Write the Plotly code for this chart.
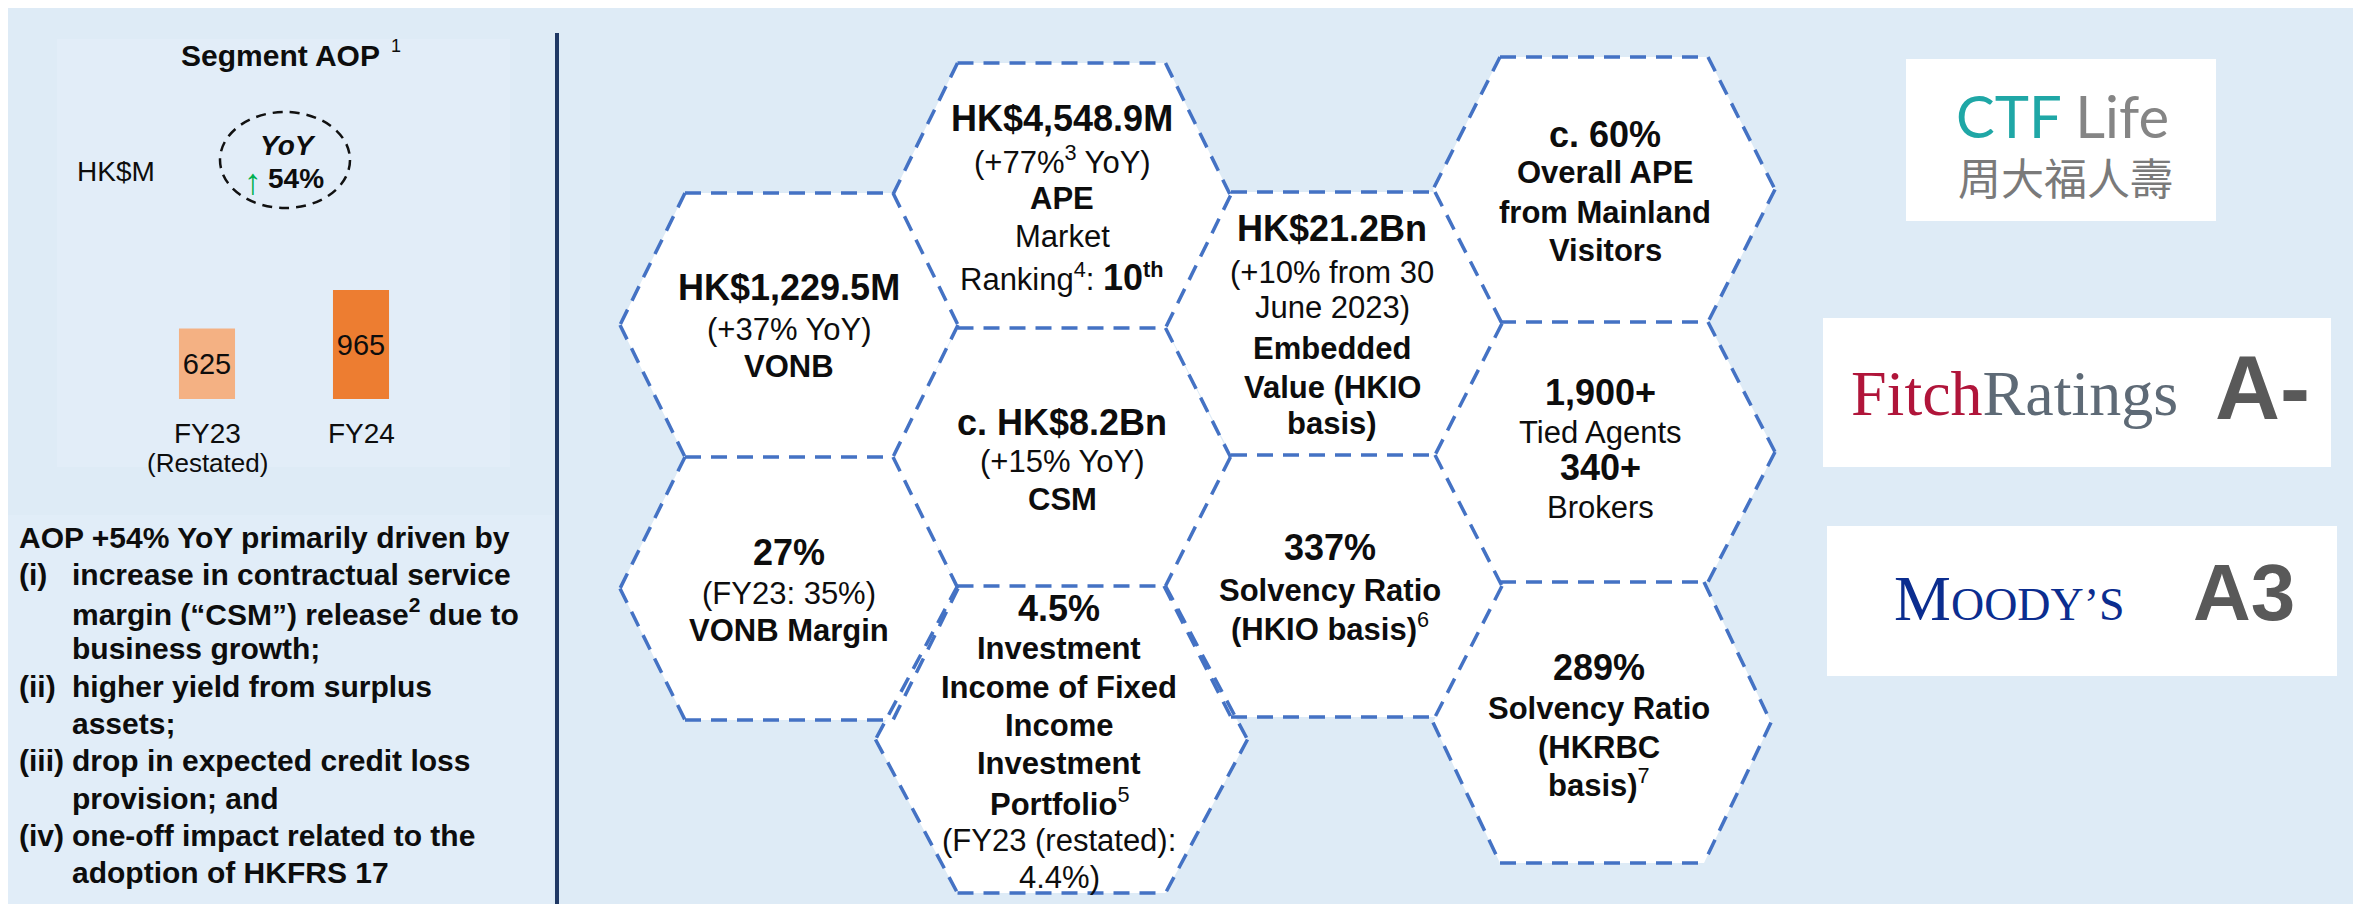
import plotly.graph_objects as go

# ---------------- data ----------------
categories = ["FY23", "FY24"]
category_notes = ["(Restated)", ""]
aop_values = [625, 965]
bar_colors = ["#F4B183", "#ED7D31"]
panel_title = "Segment AOP"
unit_label = "HK$M"
yoy_label = "YoY"
yoy_value = "54%"

driver_markers = ["", "(i)", "", "", "(ii)", "", "(iii)", "", "(iv)", ""]
driver_text = [
    "AOP +54% YoY primarily driven by",
    "increase in contractual service",
    "margin (“CSM”) release<sup>2</sup> due to",
    "business growth;",
    "higher yield from surplus",
    "assets;",
    "drop in expected credit loss",
    "provision; and",
    "one-off impact related to the",
    "adoption of HKFRS 17",
]

# hexagon contents: (text, kind)  kind: big / bold / reg / raw
hex_texts = [
    [("HK$1,229.5M", "big"), ("(+37% YoY)", "reg"), ("VONB", "bold")],
    [("27%", "big"), ("(FY23: 35%)", "reg"), ("VONB Margin", "bold")],
    [("HK$4,548.9M", "big"), ("(+77%<sup>3</sup> YoY)", "reg"), ("APE", "bold"),
     ("Market", "reg"), ("Ranking<sup>4</sup>: <b><span style='font-size:36px'>10</span><sup>th</sup></b>", "reg")],
    [("c. HK$8.2Bn", "big"), ("(+15% YoY)", "reg"), ("CSM", "bold")],
    [("4.5%", "big"), ("Investment", "bold"), ("Income of Fixed", "bold"), ("Income", "bold"),
     ("Investment", "bold"), ("<b>Portfolio</b><sup>5</sup>", "raw"), ("(FY23 (restated):", "reg"), ("4.4%)", "reg")],
    [("HK$21.2Bn", "big"), ("(+10% from 30", "reg"), ("June 2023)", "reg"), ("Embedded", "bold"),
     ("Value (HKIO", "bold"), ("basis)", "bold")],
    [("337%", "big"), ("Solvency Ratio", "bold"), ("<b>(HKIO basis)</b><sup>6</sup>", "raw")],
    [("c. 60%", "big"), ("Overall APE", "bold"), ("from Mainland", "bold"), ("Visitors", "bold")],
    [("1,900+", "big"), ("Tied Agents", "reg"), ("340+", "big"), ("Brokers", "reg")],
    [("289%", "big"), ("Solvency Ratio", "bold"), ("(HKRBC", "bold"), ("<b>basis)</b><sup>7</sup>", "raw")],
]

ratings = ["A-", "A3"]

# ---------------- layout geometry (screen pixels) ----------------
W_PX, H_PX = 2361, 904
OFF = 8  # page body margin: figure starts 8px right/down in the screenshot
FONT = "Liberation Sans, Arial, Helvetica, sans-serif"
SERIF = "Liberation Serif, Times New Roman, serif"
TXT = "#0D0D0D"
BG = "#DEEBF6"


def px(x):
    return (x - OFF) / W_PX


def py(y):
    return 1 - (y - OFF) / H_PX


hex_cx = [789, 789, 1061.5, 1061.5, 1061.5, 1333, 1333, 1604, 1604, 1602]
hex_top = [193, 457, 63, 328, 586, 192, 455, 57, 322, 582]
hex_bot = [457, 720, 328, 586, 893, 455, 717, 322, 582, 863]
hex_a = [104, 104, 104, 104, 104, 102, 102, 104, 104, 102]
hex_w = [169, 169, 169, 169, 186, 169, 169, 171, 171, 169]
hex_text_cx = [789, 789, 1062, 1062, 1059, 1332, 1330, 1605, 1600, 1599]
hex_line_y = [
    [287, 330, 367],
    [552, 593, 630],
    [118, 160, 198, 237, 278],
    [422, 461, 500],
    [608, 648, 687, 725, 763, 802, 840, 877],
    [228, 272, 308, 348, 387, 423],
    [547, 590, 627],
    [135, 173, 212, 250],
    [392, 432, 467, 507],
    [667, 708, 747, 783],
]

shapes = []
annotations = []


def rect(x0, y0, x1, y1, color):
    shapes.append(dict(type="rect", xref="paper", yref="paper", x0=px(x0), x1=px(x1),
                       y0=py(y1), y1=py(y0), fillcolor=color, line=dict(width=0), layer="below"))


def text(x, y, s, size, color=TXT, bold=False, italic=False, family=FONT, anchor="center"):
    if bold:
        s = "<b>" + s + "</b>"
    if italic:
        s = "<i>" + s + "</i>"
    annotations.append(dict(x=px(x), y=py(y), xref="paper", yref="paper", text=s, showarrow=False,
                            xanchor=anchor, yanchor="middle", font=dict(size=size, color=color, family=family)))


# panel backgrounds
rect(57, 39, 510, 467, "#E2EDF8")
rect(OFF, 515, 553, H_PX + OFF, "#E1EDF8")

# divider
shapes.append(dict(type="line", xref="paper", yref="paper", x0=px(557), x1=px(557), y0=py(33), y1=py(H_PX + OFF),
                   line=dict(color="#1F3864", width=4), layer="below"))

# YoY ellipse
shapes.append(dict(type="circle", xref="paper", yref="paper", x0=px(220), x1=px(350), y0=py(208), y1=py(112),
                   line=dict(color="#111111", width=2.5, dash="10px,7px"), layer="above"))

# hexagons: fills first, then unique dashed edges
edges = []
for cx, t, b, a, w in zip(hex_cx, hex_top, hex_bot, hex_a, hex_w):
    m = (t + b) / 2
    pts = [(cx - a, t), (cx + a, t), (cx + w, m), (cx + a, b), (cx - a, b), (cx - w, m)]
    path = "M " + " L ".join(f"{px(x):.5f},{py(y):.5f}" for x, y in pts) + " Z"
    shapes.append(dict(type="path", xref="paper", yref="paper", path=path, fillcolor="#FFFFFF",
                       line=dict(width=0), layer="below"))
    for i in range(6):
        p, q = pts[i], pts[(i + 1) % 6]
        if (p[1], p[0]) > (q[1], q[0]):
            p, q = q, p
        edges.append((p, q))

unique = []
for p, q in edges:
    dup = any(abs(p[0] - up[0]) < 9 and abs(p[1] - up[1]) < 9 and abs(q[0] - uq[0]) < 9 and abs(q[1] - uq[1]) < 9
              for up, uq in unique)
    if not dup:
        unique.append((p, q))

for p, q in unique:
    shapes.append(dict(type="line", xref="paper", yref="paper", x0=px(p[0]), y0=py(p[1]), x1=px(q[0]), y1=py(q[1]),
                       line=dict(color="#4472C4", width=3.5, dash="16px,10px"), layer="below"))

# hex texts
for cx, lines, ys in zip(hex_text_cx, hex_texts, hex_line_y):
    for (s, kind), y in zip(lines, ys):
        if kind == "big":
            text(cx, y, s, 36, bold=True)
        elif kind == "bold":
            text(cx, y, s, 31, bold=True)
        else:
            text(cx, y, s, 31)

# left panel texts
text(280, 55, panel_title, 30, bold=True)
text(396, 46, "1", 18)
text(116, 171, unit_label, 28)
text(288, 145, yoy_label, 28, bold=True, italic=True)
text(253, 181, "↑", 36, color="#00B050")
text(296, 179, yoy_value, 28, bold=True)

for cat, note in zip(categories, category_notes):
    annotations.append(dict(x=cat, y=py(433), xref="x2", yref="paper", text=cat, showarrow=False,
                            xanchor="center", yanchor="middle", font=dict(size=28, color=TXT, family=FONT)))
    if note:
        annotations.append(dict(x=cat, y=py(463), xref="x2", yref="paper", text=note, showarrow=False,
                                xanchor="center", yanchor="middle", font=dict(size=26, color=TXT, family=FONT)))

# driver text block
y0, dy = 537, 37.3
for i, (mk, s) in enumerate(zip(driver_markers, driver_text)):
    y = y0 + i * dy
    if i == 0:
        text(17, y, s, 30, bold=True, anchor="left")
    else:
        if mk:
            text(17, y, mk, 30, bold=True, anchor="left")
        text(70, y, s, 30, bold=True, anchor="left")

# logos / rating boxes
rect(1906, 59, 2216, 221, "#FFFFFF")
text(2062, 116, "<span style='color:#1FA7A6'>CTF</span><span style='color:#858585'> Life</span>", 58,
     family="Lato, Liberation Sans, sans-serif")
text(2065, 176, "周大福人壽", 43, color="#7A7A7A", family="Noto Sans CJK TC, Noto Sans CJK SC, sans-serif")

rect(1823, 318, 2331, 467, "#FFFFFF")
text(2014, 393, "<span style='color:#B0153A'>Fitch</span><span style='color:#5E6A76'>Ratings</span>", 64,
     family=SERIF)
text(2262, 388, ratings[0], 90, color="#595959", bold=True)

rect(1827, 526, 2337, 676, "#FFFFFF")
text(2009, 598, "<span style='font-size:64px'>M</span>OODY’S", 46, color="#0B2D8F", family=SERIF)
text(2244, 592, ratings[1], 80, color="#595959", bold=True)

# ---------------- figure ----------------
fig = go.Figure()
fig.add_trace(go.Bar(
    x=categories, y=aop_values, marker=dict(color=bar_colors, line=dict(width=0)),
    text=[str(v) for v in aop_values], textposition="inside", insidetextanchor="middle",
    textfont=dict(size=29, color=TXT, family=FONT), insidetextfont=dict(size=29, color=TXT, family=FONT),
    constraintext="none", textangle=0, cliponaxis=False,
    xaxis="x2", yaxis="y2", showlegend=False, hoverinfo="skip",
))

fig.update_layout(
    width=W_PX, height=H_PX,
    margin=dict(l=0, r=0, t=0, b=0),
    paper_bgcolor=BG, plot_bgcolor="rgba(0,0,0,0)",
    showlegend=False,
    bargap=0.636,
    xaxis2=dict(domain=[px(130), px(438)], anchor="y2", visible=False, range=[-0.5, 1.5],
                type="category", fixedrange=True),
    yaxis2=dict(domain=[py(399), py(263.5)], anchor="x2", visible=False, range=[0, 1200], fixedrange=True),
    shapes=shapes,
    annotations=annotations,
)

fig.write_html("out.html")
